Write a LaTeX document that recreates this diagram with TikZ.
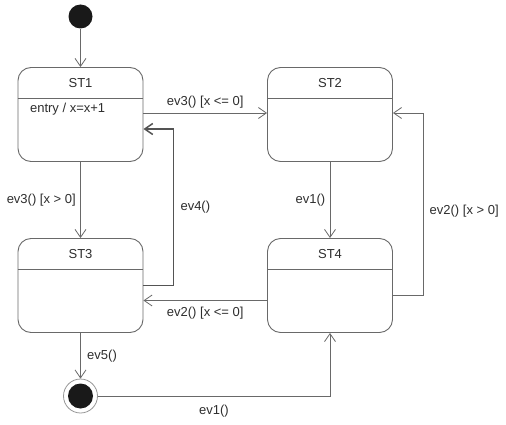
\documentclass[tikz,border=0pt]{standalone}
\usepackage{fontspec}
\setmainfont{Liberation Sans}
\usetikzlibrary{arrows.meta,positioning}
\definecolor{umlline}{RGB}{105,105,105}
\definecolor{umltext}{RGB}{45,45,45}
\definecolor{umldot}{RGB}{25,25,25}

\begin{document}
\begin{tikzpicture}[x=1pt, y=-1pt,
    state/.style={rectangle, rounded corners=13pt, draw=umlline, line width=0.9pt,
                  minimum width=125pt, minimum height=94pt, inner sep=0pt},
    lbl/.style={font=\fontsize{13}{15}\selectfont, text=umltext},
    trans/.style={-{Straight Barb[length=8pt,width=11pt]}, draw=umlline, line width=0.8pt},
  ]
    \useasboundingbox (0,0) rectangle (506,425);

    % States
    \node[circle, fill=umldot, minimum size=24pt, inner sep=0pt] (init) at (80.5,16.5) {};
    \node[state] (st1) at (80.5,114.5) {};
    \node[state] (st2) at (330,114.5) {};
    \node[state] (st3) at (80.5,285.5) {};
    \node[state] (st4) at (330,285.5) {};
    \node[circle, draw=umlline!70, line width=0.8pt, minimum size=34pt, inner sep=0pt] (final) at (80.5,396) {};
    \node[circle, fill=umldot, minimum size=25pt, inner sep=0pt] at (final) {};

    % Titles and compartments
    \foreach \s/\t in {st1/ST1, st2/ST2, st3/ST3, st4/ST4} {
      \node[lbl] at ([yshift=-16pt]\s.north) {\t};
      \draw[umlline, line width=0.9pt] ([yshift=-31pt]\s.north west) -- ([yshift=-31pt]\s.north east);
    }
    \node[lbl, anchor=west] at ([xshift=9pt, yshift=-42pt]st1.north west) {entry / x=x+1};

    % Transitions
    \draw[trans] (init) -- (st1);
    \draw[trans] ([yshift=1.5pt]st1.east) -- node[lbl, above, yshift=1pt] {ev3() [x <= 0]} ([yshift=1.5pt]st2.west);
    \draw[trans] (st1) -- node[lbl, left, xshift=-1pt] {ev3() [x > 0]} (st3);
    \draw[trans, line width=1.5pt, draw=umlline!80!black] (st3.east) -- ++(30,0)
      |- node[lbl, right, pos=0.25, xshift=3pt] {ev4()} ([yshift=-14.5pt]st1.east);
    \draw[trans] (st2) -- node[lbl, left, xshift=-1pt] {ev1()} (st4);
    \draw[trans] ([yshift=-9.5pt]st4.east) -- ++(30,0)
      |- node[lbl, right, pos=0.23, xshift=3pt] {ev2() [x > 0]} ([yshift=1.5pt]st2.east);
    \draw[trans] ([yshift=-15pt]st4.west) -- node[lbl, below, yshift=-3pt] {ev2() [x <= 0]} ([yshift=-15pt]st3.east);
    \draw[trans] (st3) -- node[lbl, right, xshift=3pt] {ev5()} (final);
    \draw[trans] (final) -| node[lbl, below, pos=0.25, yshift=-5pt] {ev1()} (st4);
\end{tikzpicture}
\end{document}
